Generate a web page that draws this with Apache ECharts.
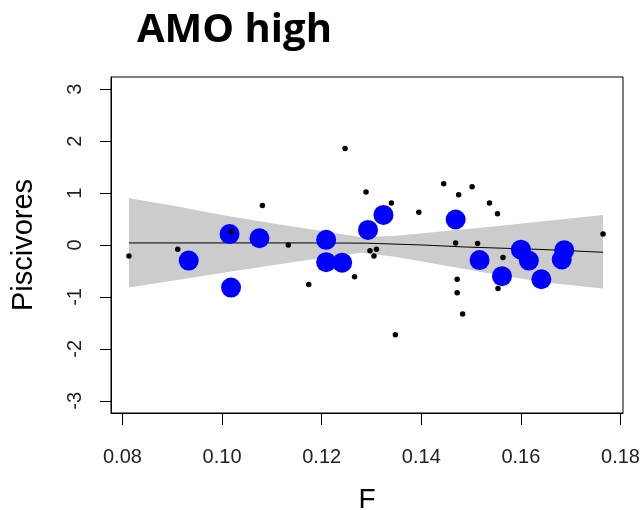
<!DOCTYPE html>
<html>
<head>
<meta charset="utf-8">
<script src="https://cdn.jsdelivr.net/npm/echarts@6/dist/echarts.min.js"></script>
<style>html,body{margin:0;padding:0;background:#fff;}#c{width:642px;height:510px;}</style>
</head>
<body>
<div id="c"></div>
<script>
// ---- data ----
const titleText = 'AMO high';
const xName = 'F';
const yName = 'Piscivores';
const xTicks = [0.08, 0.10, 0.12, 0.14, 0.16, 0.18];
const yTicks = [-3, -2, -1, 0, 1, 2, 3];

// small black points (F, Piscivores)
const smallX = [0.0813, 0.0911, 0.1018, 0.1081, 0.1133, 0.1174, 0.1247, 0.1266, 0.1289, 0.1297,
                0.1305, 0.1310, 0.1340, 0.1348, 0.1395, 0.1445, 0.1469, 0.1472, 0.1472, 0.1475,
                0.1483, 0.1502, 0.1513, 0.1537, 0.1553, 0.1554, 0.1564, 0.1765];
const smallY = [-0.21, -0.08, 0.26, 0.76, 0.00, -0.76, 1.86, -0.61, 1.02, -0.11,
                -0.21, -0.08, 0.81, -1.73, 0.63, 1.18, 0.04, -0.66, -0.92, 0.97,
                -1.33, 1.12, 0.03, 0.81, 0.60, -0.84, -0.24, 0.21];

// large blue points
const bigX = [0.0933, 0.1015, 0.1018, 0.1075, 0.1209, 0.1209, 0.1241, 0.1293, 0.1324,
              0.1469, 0.1517, 0.1562, 0.1600, 0.1616, 0.1641, 0.1682, 0.1687];
const bigY = [-0.30, 0.21, -0.82, 0.13, 0.10, -0.33, -0.34, 0.29, 0.58,
              0.49, -0.29, -0.60, -0.09, -0.30, -0.66, -0.28, -0.10];

// fitted line
const fitX = [0.0813, 0.1200, 0.1290, 0.1403, 0.1491, 0.1638, 0.1765];
const fitY = [0.04, 0.04, 0.035, 0.00, -0.04, -0.085, -0.14];

// confidence band
const bandX     = [0.0813, 0.090, 0.100, 0.110, 0.120, 0.128, 0.135, 0.145, 0.155, 0.165, 0.1765];
const bandUpper = [0.90, 0.76, 0.58, 0.42, 0.27, 0.15, 0.18, 0.27, 0.36, 0.46, 0.58];
const bandLower = [-0.82, -0.69, -0.54, -0.39, -0.25, -0.15, -0.23, -0.40, -0.57, -0.72, -0.84];

// ---- chart ----
const chart = echarts.init(document.getElementById('c'), null, {renderer: 'canvas'});
const labelFont = '"Liberation Sans", Arial, sans-serif';
const option = {
  animation: false,
  backgroundColor: '#ffffff',
  title: {
    text: titleText,
    left: 132, top: 6,
    textStyle: {fontFamily: '"Open Sans", sans-serif', fontWeight: 'bold', fontSize: 40, color: '#000'}
  },
  grid: {left: 111, top: 77, width: 512, height: 336, show: true, borderColor: '#000', borderWidth: 1,
         containLabel: false, outerBoundsMode: 'none'},
  xAxis: {
    type: 'value', min: 0.0777, max: 0.1805,
    name: xName, nameLocation: 'middle', nameGap: 73,
    nameTextStyle: {fontFamily: labelFont, fontSize: 28, color: '#000'},
    axisLine: {show: true, onZero: false, lineStyle: {color: '#000', width: 1}},
    axisTick: {show: true, length: 12, customValues: xTicks, lineStyle: {color: '#000'}},
    axisLabel: {customValues: xTicks, formatter: v => v.toFixed(2), fontFamily: labelFont, fontSize: 20, color: '#222', margin: 34},
    splitLine: {show: false}
  },
  yAxis: {
    type: 'value', min: -3.235, max: 3.235,
    name: yName, nameLocation: 'middle', nameGap: 73, nameRotate: 90,
    nameTextStyle: {fontFamily: labelFont, fontSize: 29, color: '#000'},
    axisLine: {show: true, onZero: false, lineStyle: {color: '#000', width: 1}},
    axisTick: {show: true, length: 11, customValues: yTicks, lineStyle: {color: '#000'}},
    axisLabel: {customValues: yTicks, rotate: 90, fontFamily: labelFont, fontSize: 20, color: '#222', margin: 26},
    splitLine: {show: false}
  },
  series: [
    {
      type: 'custom', silent: true, z: 1,
      data: bandX.map((x, i) => [x, bandUpper[i], bandLower[i]]),
      encode: {x: 0, y: [1, 2]},
      renderItem: function (params, api) {
        if (params.dataIndex !== 0) return null;
        const pts = [];
        for (let i = 0; i < bandX.length; i++) pts.push(api.coord([bandX[i], bandUpper[i]]));
        for (let i = bandX.length - 1; i >= 0; i--) pts.push(api.coord([bandX[i], bandLower[i]]));
        return {type: 'polygon', shape: {points: pts}, style: {fill: '#cccccc'}};
      }
    },
    {
      type: 'line', z: 2, silent: true, symbol: 'none',
      data: fitX.map((x, i) => [x, fitY[i]]),
      lineStyle: {color: '#000', width: 1}
    },
    {
      type: 'scatter', z: 3, symbol: 'circle', symbolSize: 20,
      data: bigX.map((x, i) => [x, bigY[i]]),
      itemStyle: {color: '#0000ff', opacity: 1}
    },
    {
      type: 'scatter', z: 4, symbol: 'circle', symbolSize: 5.5,
      data: smallX.map((x, i) => [x, smallY[i]]),
      itemStyle: {color: '#000', opacity: 1}
    }
  ]
};
chart.setOption(option);
</script>
</body>
</html>
